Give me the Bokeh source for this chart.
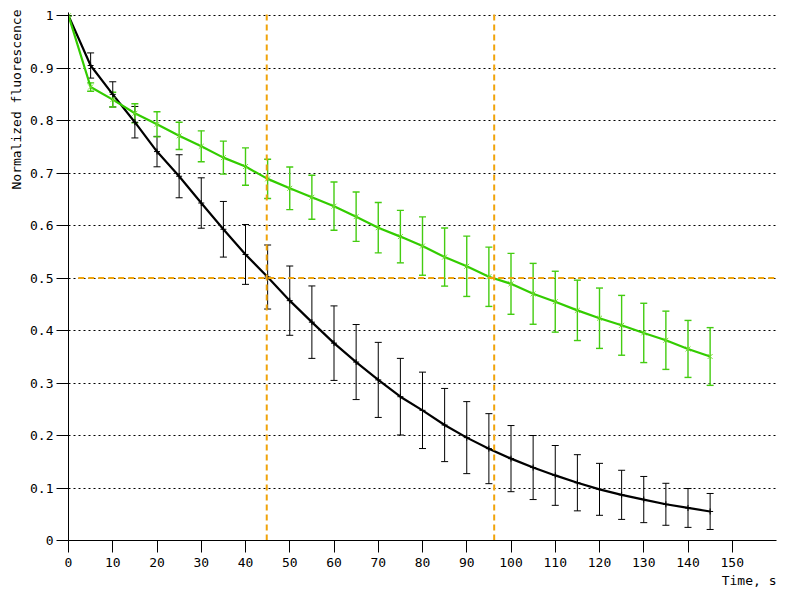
from bokeh.plotting import figure
from bokeh.models import (ColumnDataSource, Whisker, TeeHead, FixedTicker, Title,
                          Range1d)
from bokeh.embed import file_html
from bokeh.resources import INLINE

# ---------------- data ----------------
time_s = [0, 5, 10, 15, 20, 25, 30, 35, 40, 45, 50, 55, 60, 65, 70, 75,
          80, 85, 90, 95, 100, 105, 110, 115, 120, 125, 130, 135, 140, 145]

black_mean = [1.000, 0.905, 0.850, 0.797, 0.741, 0.694, 0.643, 0.593, 0.545, 0.502,
              0.457, 0.416, 0.376, 0.340, 0.306, 0.274, 0.248, 0.220, 0.196, 0.175,
              0.156, 0.139, 0.124, 0.110, 0.0975, 0.087, 0.078, 0.069, 0.062, 0.0553]
black_err = [0.0, 0.024, 0.024, 0.030, 0.029, 0.041, 0.048, 0.053, 0.057, 0.061,
             0.066, 0.069, 0.071, 0.0715, 0.0715, 0.073, 0.0728, 0.0697, 0.0686, 0.0667,
             0.063, 0.061, 0.057, 0.0535, 0.0495, 0.0468, 0.044, 0.040, 0.037, 0.0343]

green_mean = [1.000, 0.864, 0.840, 0.814, 0.793, 0.771, 0.751, 0.7295, 0.7125, 0.689,
              0.671, 0.654, 0.637, 0.617, 0.596, 0.579, 0.561, 0.540, 0.5225, 0.5025,
              0.489, 0.470, 0.455, 0.4385, 0.4235, 0.410, 0.3955, 0.3815, 0.365, 0.3506]
green_err = [0.0, 0.008, 0.014, 0.018, 0.024, 0.026, 0.0295, 0.0315, 0.0355, 0.0374,
             0.0405, 0.042, 0.046, 0.047, 0.048, 0.050, 0.0556, 0.0553, 0.0575, 0.0565,
             0.058, 0.058, 0.058, 0.0575, 0.0575, 0.057, 0.0565, 0.0555, 0.0543, 0.055]

half_times = [44.8, 96.2]      # times where curves reach 0.5
half_level = 0.5

x_ticks = list(range(0, 160, 10))
y_ticks = [0, 0.1, 0.2, 0.3, 0.4, 0.5, 0.6, 0.7, 0.8, 0.9, 1.0]

x_title = "Time, s"
y_title = "Normalized fluorescence"

# ---------------- style ----------------
FONT = "DejaVu Sans Mono"
GREEN = "#33cc00"
GREEN_BAR = "#44cc11"
GREEN_MK = "#77dd33"
ORANGE = "#f0a30a"

X_MAX = 160
Y_MAX = 1.006

p = figure(frame_width=708, frame_height=528,
           x_range=Range1d(0, X_MAX), y_range=Range1d(0, Y_MAX),
           output_backend="svg", toolbar_location=None,
           min_border_left=68, min_border_top=12, min_border_right=12,
           min_border_bottom=52)
p.outline_line_color = None
p.background_fill_color = "white"
p.border_fill_color = "white"

# axes
for ax in (p.xaxis[0], p.yaxis[0]):
    ax.axis_line_color = "black"
    ax.axis_line_width = 1
    ax.major_tick_line_color = "black"
    ax.major_tick_out = 12
    ax.major_tick_in = 0
    ax.minor_tick_line_color = None
    ax.major_label_text_font = FONT
    ax.major_label_text_font_size = "13px"
    ax.major_label_text_color = "black"

p.xaxis[0].ticker = FixedTicker(ticks=x_ticks)
p.xaxis[0].major_label_standoff = 5
p.yaxis[0].ticker = FixedTicker(ticks=y_ticks)
p.yaxis[0].major_label_standoff = 3
p.yaxis[0].major_label_overrides = {0: "0", 1: "1"}

p.xgrid.grid_line_color = None
p.ygrid.ticker = FixedTicker(ticks=y_ticks[1:])
p.ygrid.grid_line_color = "black"
p.ygrid.grid_line_dash = "2 3"
p.ygrid.grid_line_width = 1

# ---- black series ----
bsrc = ColumnDataSource(dict(
    t=time_s, m=black_mean,
    lo=[m - e for m, e in zip(black_mean, black_err)],
    hi=[m + e for m, e in zip(black_mean, black_err)]))
bw = Whisker(source=bsrc, base="t", upper="hi", lower="lo",
             line_color="black", line_width=1,
             upper_head=TeeHead(size=7, line_color="black", line_width=1),
             lower_head=TeeHead(size=7, line_color="black", line_width=1))
p.add_layout(bw)
p.line("t", "m", source=bsrc, line_color="black", line_width=2.2)
p.scatter("t", "m", source=bsrc, marker="cross", size=6, line_color="black",
          line_width=1)

# ---- green series ----
gsrc = ColumnDataSource(dict(
    t=time_s, m=green_mean,
    lo=[m - e for m, e in zip(green_mean, green_err)],
    hi=[m + e for m, e in zip(green_mean, green_err)]))
gw = Whisker(source=gsrc, base="t", upper="hi", lower="lo",
             line_color=GREEN_BAR, line_width=1.4,
             upper_head=TeeHead(size=7, line_color=GREEN_BAR, line_width=1.4),
             lower_head=TeeHead(size=7, line_color=GREEN_BAR, line_width=1.4))
p.add_layout(gw)
p.line("t", "m", source=gsrc, line_color=GREEN, line_width=2.2)
p.scatter("t", "m", source=gsrc, marker="x", size=7, line_color=GREEN_MK,
          line_width=1)

# ---- orange half-level guides ----
p.segment(x0=[2.2], y0=[half_level], x1=[X_MAX], y1=[half_level],
          line_color=ORANGE, line_width=2, line_dash="6 4")
p.segment(x0=half_times, y0=[0, 0], x1=half_times, y1=[Y_MAX, Y_MAX],
          line_color=ORANGE, line_width=2, line_dash="6 4")

# ---- axis titles as side titles ----
p.add_layout(Title(text=x_title, align="right", text_font=FONT,
                   text_font_size="13px", text_font_style="normal",
                   text_color="black", standoff=2, offset=0), "below")
p.add_layout(Title(text=y_title, align="right", text_font=FONT,
                   text_font_size="13px", text_font_style="normal",
                   text_color="black", standoff=8, offset=-3), "left")

open("out.html", "w").write(file_html(p, INLINE))
